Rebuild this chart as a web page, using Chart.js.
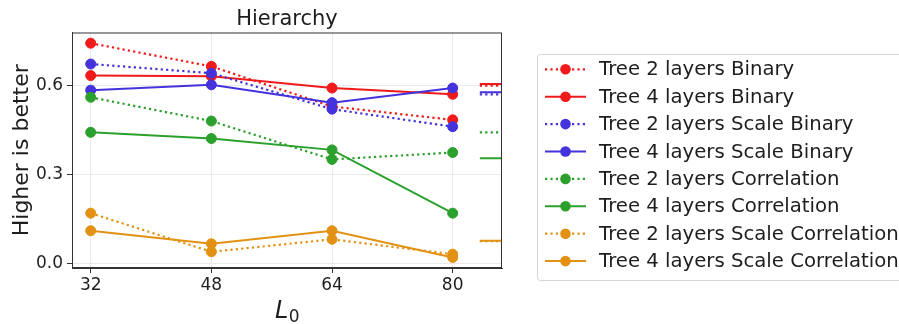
<!DOCTYPE html>
<html>
<head>
<meta charset="utf-8">
<script src="https://cdn.jsdelivr.net/npm/chart.js@4/dist/chart.umd.min.js"></script>
<style>
html,body{margin:0;padding:0;background:#fff;}
#wrap{width:899px;height:324px;position:relative;}
</style>
</head>
<body>
<div id="wrap"><canvas id="c" width="899" height="324"></canvas></div>
<script>
// ---- data ----
const xValues = [32, 48, 64, 80];
const xTickLabels = ["32", "48", "64", "80"];
const yTickValues = [0.0, 0.3, 0.6];
const seriesNames = [
  "Tree 2 layers Binary",
  "Tree 4 layers Binary",
  "Tree 2 layers Scale Binary",
  "Tree 4 layers Scale Binary",
  "Tree 2 layers Correlation",
  "Tree 4 layers Correlation",
  "Tree 2 layers Scale Correlation",
  "Tree 4 layers Scale Correlation"
];
const tree2Binary = [0.743, 0.665, 0.530, 0.485];
const tree4Binary = [0.634, 0.632, 0.592, 0.571];
const tree2ScaleBinary = [0.673, 0.642, 0.521, 0.462];
const tree4ScaleBinary = [0.585, 0.603, 0.543, 0.592];
const tree2Correlation = [0.561, 0.481, 0.352, 0.375];
const tree4Correlation = [0.443, 0.422, 0.384, 0.171];
const tree2ScaleCorrelation = [0.171, 0.041, 0.083, 0.033];
const tree4ScaleCorrelation = [0.112, 0.068, 0.112, 0.022];
// reference (baseline) levels drawn at the right edge
const refBinary2 = 0.600, refBinary4 = 0.606;
const refScaleBinary2 = 0.571, refScaleBinary4 = 0.578;
const refCorrelation2 = 0.443, refCorrelation4 = 0.356;
const refScaleCorrelation2 = 0.077, refScaleCorrelation4 = 0.078;
const refStartX = 83.6;

const seriesValues = [tree2Binary, tree4Binary, tree2ScaleBinary, tree4ScaleBinary,
  tree2Correlation, tree4Correlation, tree2ScaleCorrelation, tree4ScaleCorrelation];
const refValues = [refBinary2, refBinary4, refScaleBinary2, refScaleBinary4,
  refCorrelation2, refCorrelation4, refScaleCorrelation2, refScaleCorrelation4];

// ---- styles ----
const palette = ['#f01a1a', '#f01a1a', '#4433dd', '#4433dd', '#2ca02c', '#2ca02c', '#e39112', '#e39112'];
const dotted = [2.2, 3.2];
const isDotted = i => i % 2 === 0;

const datasets = [];
seriesValues.forEach((vals, i) => {
  datasets.push({
    label: seriesNames[i],
    data: xValues.map((x, k) => ({x: x, y: vals[k]})),
    borderColor: palette[i],
    backgroundColor: palette[i],
    borderWidth: isDotted(i) ? 2.2 : 2,
    borderDash: isDotted(i) ? dotted : [],
    pointRadius: 5,
    pointBorderWidth: 1,
    pointBorderColor: palette[i],
    pointBackgroundColor: palette[i],
    pointHoverRadius: 5,
    showLine: true,
    tension: 0,
    order: 100 - i
  });
});
refValues.forEach((v, i) => {
  datasets.push({
    label: '_ref' + i,
    data: [{x: refStartX, y: v}, {x: 95, y: v}],
    borderColor: palette[i],
    borderWidth: isDotted(i) ? 2.2 : 2,
    borderDash: isDotted(i) ? dotted : [],
    pointRadius: 0,
    showLine: true,
    order: 50 - i
  });
});

const TXT = '#1e1e1e';
const FONT = 'DejaVu Sans';

const decor = {
  id: 'decor',
  afterDraw(chart) {
    const ctx = chart.ctx;
    const a = chart.chartArea;
    ctx.save();
    // frame
    ctx.strokeStyle = '#333333';
    ctx.lineWidth = 1;
    ctx.setLineDash([]);
    ctx.strokeRect(a.left + 0.5, a.top + 0.5, a.right - a.left - 1, a.bottom - a.top - 1);
    // title
    ctx.fillStyle = TXT;
    ctx.font = '21px "' + FONT + '"';
    ctx.textAlign = 'center';
    ctx.textBaseline = 'alphabetic';
    ctx.fillText('Hierarchy', (a.left + a.right) / 2, 25);
    // y label
    ctx.save();
    ctx.translate(28, (a.top + a.bottom) / 2);
    ctx.rotate(-Math.PI / 2);
    ctx.font = '22px "' + FONT + '"';
    ctx.textAlign = 'center';
    ctx.fillText('Higher is better', 0, 0);
    ctx.restore();
    // x label L_0
    const cx = (a.left + a.right) / 2;
    ctx.font = 'italic 24px "' + FONT + '"';
    ctx.textAlign = 'left';
    const wL = ctx.measureText('L').width;
    ctx.font = '17px "' + FONT + '"';
    const w0 = ctx.measureText('0').width;
    const start = cx - (wL + w0) / 2;
    ctx.font = 'italic 24px "' + FONT + '"';
    ctx.fillText('L', start, 318);
    ctx.font = '17px "' + FONT + '"';
    ctx.fillText('0', start + wL + 0.5, 322);
    // legend
    const lx = 537.5, ly = 54.5, lw = 380, lh = 226;
    ctx.strokeStyle = '#d6d6d6';
    ctx.lineWidth = 1;
    ctx.beginPath();
    if (ctx.roundRect) ctx.roundRect(lx, ly, lw, lh, 3); else ctx.rect(lx, ly, lw, lh);
    ctx.stroke();
    const rowTop = 69.3, rowGap = 27.4;
    seriesNames.forEach((name, i) => {
      const y = rowTop + i * rowGap;
      ctx.strokeStyle = palette[i];
      ctx.lineWidth = isDotted(i) ? 2.2 : 2;
      ctx.setLineDash(isDotted(i) ? dotted : []);
      ctx.beginPath();
      ctx.moveTo(545, y);
      ctx.lineTo(586, y);
      ctx.stroke();
      ctx.setLineDash([]);
      ctx.fillStyle = palette[i];
      ctx.beginPath();
      ctx.arc(565.5, y, 5.3, 0, Math.PI * 2);
      ctx.fill();
      ctx.fillStyle = TXT;
      ctx.font = '19.7px "' + FONT + '"';
      ctx.textAlign = 'left';
      ctx.textBaseline = 'middle';
      ctx.fillText(name, 599, y + 1);
    });
    ctx.restore();
  }
};

new Chart(document.getElementById('c'), {
  type: 'scatter',
  data: {datasets: datasets},
  plugins: [decor],
  options: {
    responsive: false,
    animation: false,
    devicePixelRatio: 1,
    layout: {padding: {left: 0, top: 32.5, right: 397, bottom: 0}},
    plugins: {legend: {display: false}, tooltip: {enabled: false}, title: {display: false}},
    scales: {
      x: {
        type: 'linear',
        min: 29.52,
        max: 86.54,
        afterBuildTicks: s => { s.ticks = xValues.map(v => ({value: v})); },
        afterFit: s => { s.height = 56; },
        ticks: {
          callback: (v) => xTickLabels[xValues.indexOf(v)],
          color: TXT,
          font: {family: FONT, size: 17},
          padding: 2,
          maxRotation: 0,
          autoSkip: false
        },
        grid: {
          color: '#e4e4e4',
          borderDash: [4, 3],
          lineWidth: 0.8,
          drawTicks: true,
          tickLength: 5,
          tickColor: '#333333',
          tickBorderDash: [],
          tickWidth: 1
        },
        border: {display: true, color: '#333333', width: 1}
      },
      y: {
        type: 'linear',
        min: -0.0135,
        max: 0.779,
        afterBuildTicks: s => { s.ticks = yTickValues.map(v => ({value: v})); },
        afterFit: s => { s.width = 72; },
        ticks: {
          callback: v => v.toFixed(1),
          color: TXT,
          font: {family: FONT, size: 17},
          padding: 4,
          autoSkip: false
        },
        grid: {
          color: '#e4e4e4',
          borderDash: [4, 3],
          lineWidth: 0.8,
          drawTicks: true,
          tickLength: 5,
          tickColor: '#333333',
          tickBorderDash: [],
          tickWidth: 1
        },
        border: {display: true, color: '#333333', width: 1}
      }
    }
  }
});
</script>
</body>
</html>
